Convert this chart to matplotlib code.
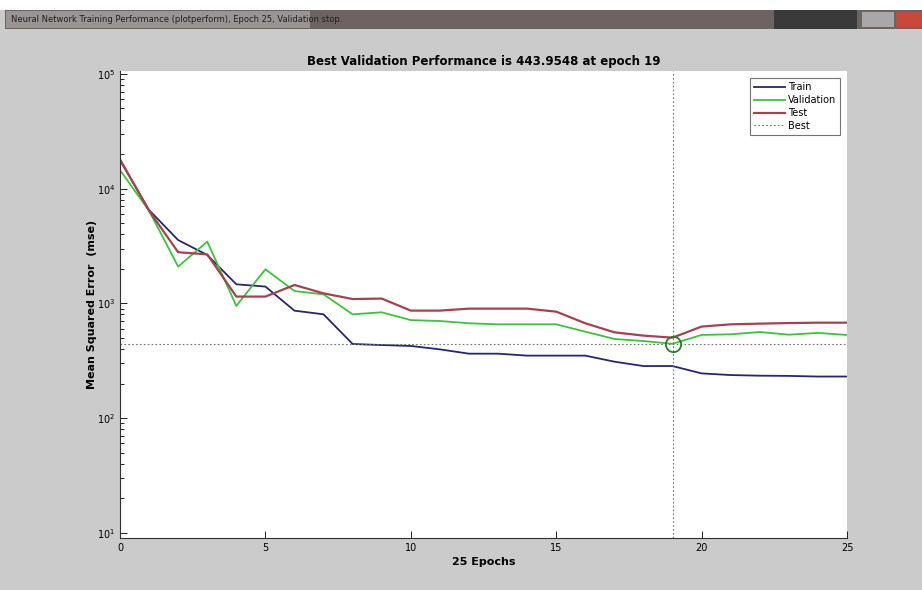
import matplotlib.pyplot as plt
from matplotlib.patches import Rectangle
import numpy as np

epochs = list(range(26))
train = [17700, 6500, 3560, 2640, 1465, 1400, 863, 802, 442, 433, 425, 397, 364, 364,
         350, 350, 350, 310, 284, 284, 245, 237, 234, 233, 230, 230]
validation = [14500, 6400, 2090, 3450, 950, 1980, 1280, 1197, 802, 835, 714, 701, 670, 656,
              656, 656, 566, 489, 469, 443.9548, 530, 537, 562, 533, 552, 530]
test = [18000, 6400, 2790, 2670, 1145, 1145, 1445, 1222, 1090, 1100, 864, 864, 899, 899,
        899, 846, 670, 559, 523, 502, 627, 656, 665, 673, 678, 678]
best_epoch = 19
best_perf = 443.9548

fig = plt.figure(figsize=(9.22, 5.90), dpi=100, facecolor='#cbcbcb')

# window title bar
fig.patches.append(Rectangle((0, 1 - 10/590), 1, 10/590, transform=fig.transFigure,
                             facecolor='white', edgecolor='none'))
fig.patches.append(Rectangle((0.005, 1 - 29/590), 0.995, 19/590, transform=fig.transFigure,
                             facecolor='#6d6461', edgecolor='none'))
fig.patches.append(Rectangle((0.006, 1 - 28/590), 0.33, 17/590, transform=fig.transFigure,
                             facecolor='#9a9493', edgecolor='none'))
fig.patches.append(Rectangle((0.84, 1 - 29/590), 0.09, 19/590, transform=fig.transFigure,
                             facecolor='#3a3a3a', edgecolor='none'))
fig.patches.append(Rectangle((0.935, 1 - 27/590), 0.035, 15/590, transform=fig.transFigure,
                             facecolor='#a8a8a8', edgecolor='none'))
fig.patches.append(Rectangle((0.972, 1 - 27/590), 0.028, 15/590, transform=fig.transFigure,
                             facecolor='#c8493a', edgecolor='none'))
fig.text(0.012, 1 - 19/590, 'Neural Network Training Performance (plotperform), Epoch 25, Validation stop.',
         fontsize=6, color='#202020', va='center', ha='left', family='Liberation Sans Narrow')

ax = fig.add_axes([120/922, 1 - 538/590, 727/922, 467/590])
ax.set_yscale('log')

ax.plot(epochs, train, color='#26276e', lw=1.3, label='Train')
ax.plot(epochs, validation, color='#3ec23e', lw=1.3, label='Validation')
ax.plot(epochs, test, color='#a3434f', lw=1.6, label='Test')
ax.axhline(best_perf, color='#6a7a6a', lw=0.8, ls=(0, (1.5, 2)), label='Best')
ax.axvline(best_epoch, color='#6a7a6a', lw=0.8, ls=(0, (1.5, 2)))
ax.plot([best_epoch], [best_perf], 'o', ms=11, mfc='none', mec='#2d7a2d', mew=1.3)

ax.set_xlim(0, 25)
ax.set_ylim(9.0, 1.06e5)
ax.set_xticks([0, 5, 10, 15, 20, 25])
ax.tick_params(axis='both', labelsize=7, direction='in', length=5, width=0.6)
ax.tick_params(axis='y', which='minor', direction='in', length=3, width=0.6)
ax.tick_params(axis='x', which='minor', length=0)
for s in ax.spines.values():
    s.set_linewidth(0.8)
    s.set_color('#303030')
ax.spines['top'].set_visible(False)
ax.spines['right'].set_visible(False)

ax.set_title('Best Validation Performance is 443.9548 at epoch 19', fontsize=8.5,
             fontweight='bold', pad=4)
ax.set_xlabel('25 Epochs', fontsize=8, fontweight='bold', labelpad=3)
ax.set_ylabel('Mean Squared Error  (mse)', fontsize=8, fontweight='bold', labelpad=0)

leg = ax.legend(loc='upper right', fontsize=7, frameon=True, fancybox=False,
                borderpad=0.4, handlelength=3.2, handletextpad=0.3, labelspacing=0.3,
                bbox_to_anchor=(0.997, 0.995))
leg.get_frame().set_edgecolor('#505050')
leg.get_frame().set_linewidth(0.8)

fig.savefig('out.png', dpi=100, facecolor=fig.get_facecolor())
